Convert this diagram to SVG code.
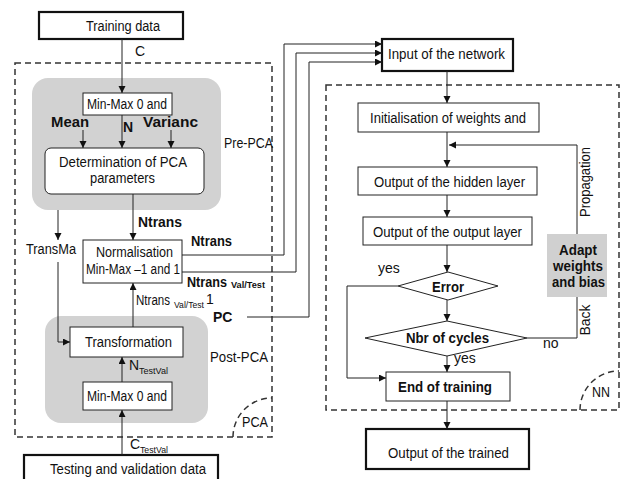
<svg xmlns="http://www.w3.org/2000/svg" width="622" height="479" viewBox="0 0 622 479">
<style>
text{font-family:"Liberation Sans",Arial,sans-serif;font-size:14px;fill:#111}
.b{font-weight:bold}
.c{text-anchor:middle}
.sub{font-size:9px}
.box{fill:#fff;stroke:#222;stroke-width:1}
.thick{fill:#fff;stroke:#111;stroke-width:2.2}
.gray{fill:#d2d2d2;stroke:none}
.dash{fill:none;stroke:#333;stroke-width:1.5;stroke-dasharray:6 4}
.ln{fill:none;stroke:#222;stroke-width:1}
.arr{marker-end:url(#ah)}
</style>
<defs>
<marker id="ah" markerUnits="userSpaceOnUse" markerWidth="8" markerHeight="8" refX="7" refY="3.5" orient="auto">
<path d="M0,0 L7,3.5 L0,7 z" fill="#111"/>
</marker>
</defs>
<rect width="622" height="479" fill="#fff"/>

<g id="regions">
<rect class="dash" x="15" y="63" width="257" height="374"/>
<path class="dash" d="M233,437 A39,39 0 0 1 272,398"/>
<text x="242" y="427" textLength="26" lengthAdjust="spacingAndGlyphs">PCA</text>
<rect class="dash" x="326" y="85" width="293" height="325"/>
<path class="dash" d="M580,410 A39,39 0 0 1 619,371"/>
<text x="592" y="397" textLength="18" lengthAdjust="spacingAndGlyphs">NN</text>
<rect class="gray" x="32" y="78" width="189" height="132" rx="16"/>
<text x="224" y="148" textLength="49" lengthAdjust="spacingAndGlyphs">Pre-PCA</text>
<rect class="gray" x="45" y="316" width="163" height="107" rx="16"/>
<text x="210" y="362" textLength="58" lengthAdjust="spacingAndGlyphs">Post-PCA</text>
</g>

<g id="training">
<rect class="thick" x="39" y="12" width="144" height="27"/>
<text x="86" y="31" textLength="74" lengthAdjust="spacingAndGlyphs">Training data</text>
</g>
<g id="minmax1">
<rect class="box" x="83" y="93" width="89" height="22"/>
<text x="87" y="109" textLength="80" lengthAdjust="spacingAndGlyphs">Min-Max 0 and</text>
</g>
<g id="determination">
<rect class="box" x="45" y="148" width="159" height="46" rx="6"/>
<text x="59" y="167" textLength="128" lengthAdjust="spacingAndGlyphs">Determination of PCA</text>
<text x="90" y="183" textLength="65" lengthAdjust="spacingAndGlyphs">parameters</text>
</g>
<g id="normalisation">
<rect class="box" x="83" y="240" width="99" height="43"/>
<text x="96" y="257" textLength="77" lengthAdjust="spacingAndGlyphs">Normalisation</text>
<text x="86" y="274" textLength="94" lengthAdjust="spacingAndGlyphs">Min-Max –1 and 1</text>
</g>
<g id="transformation">
<rect class="box" x="70" y="327" width="113" height="30"/>
<text x="85" y="347" textLength="87" lengthAdjust="spacingAndGlyphs">Transformation</text>
</g>
<g id="minmax2">
<rect class="box" x="83" y="382" width="89" height="28"/>
<text x="87" y="401" textLength="80" lengthAdjust="spacingAndGlyphs">Min-Max 0 and</text>
</g>
<g id="testing">
<rect class="thick" x="24" y="455" width="194" height="30"/>
<text x="50" y="474" textLength="156" lengthAdjust="spacingAndGlyphs">Testing and validation data</text>
</g>

<g id="input">
<rect class="thick" x="382" y="39" width="131" height="32"/>
<text x="388" y="59" textLength="117" lengthAdjust="spacingAndGlyphs">Input of the network</text>
</g>
<g id="init">
<rect class="box" x="358" y="103" width="181" height="29"/>
<text x="370" y="123" textLength="156" lengthAdjust="spacingAndGlyphs">Initialisation of weights and</text>
</g>
<g id="hidden">
<rect class="box" x="358" y="167" width="179" height="28"/>
<text x="374" y="187" textLength="151" lengthAdjust="spacingAndGlyphs">Output of the hidden layer</text>
</g>
<g id="outputlayer">
<rect class="box" x="363" y="217" width="169" height="28"/>
<text x="373" y="237" textLength="149" lengthAdjust="spacingAndGlyphs">Output of the output layer</text>
</g>
<g id="adapt">
<rect x="547" y="234" width="60" height="63" fill="#d0d0d0"/>
<text class="b" x="559" y="255" textLength="38" lengthAdjust="spacingAndGlyphs">Adapt</text>
<text class="b" x="553" y="271" textLength="50" lengthAdjust="spacingAndGlyphs">weights</text>
<text class="b" x="552" y="287" textLength="53" lengthAdjust="spacingAndGlyphs">and bias</text>
</g>
<g id="error">
<polygon class="box" points="398,286 448,272 498,286 448,300"/>
<text class="b" x="432" y="292" textLength="32" lengthAdjust="spacingAndGlyphs">Error</text>
</g>
<g id="cycles">
<polygon class="box" points="365,338 447,321 527,338 447,356"/>
<text class="b" x="406" y="343" textLength="83" lengthAdjust="spacingAndGlyphs">Nbr of cycles</text>
</g>
<g id="end">
<rect class="box" x="386" y="372" width="124" height="29"/>
<text class="b" x="398" y="392" textLength="94" lengthAdjust="spacingAndGlyphs">End of training</text>
</g>
<g id="trained">
<rect class="thick" x="366" y="429" width="163" height="40"/>
<text x="388" y="458" textLength="121" lengthAdjust="spacingAndGlyphs">Output of the trained</text>
</g>

<g id="connectors">
<path class="ln arr" d="M122,39 V93"/>
<path class="ln arr" d="M122,115 V148"/>
<path class="ln arr" d="M83,130 V148"/>
<path class="ln arr" d="M171,130 V148"/>
<path class="ln arr" d="M133,194 V240"/>
<path class="ln arr" d="M58,210 V240"/>
<path class="ln arr" d="M58,262 V342 H70"/>
<path class="ln arr" d="M133,327 V283"/>
<path class="ln arr" d="M122,382 V357"/>
<path class="ln arr" d="M122,455 V410"/>
<path class="ln arr" d="M182,255 H284 V44 H382"/>
<path class="ln arr" d="M182,272 H296 V53 H382"/>
<path class="ln arr" d="M247,317 H309 V62 H382"/>
<path class="ln arr" d="M447,71 V103"/>
<path class="ln arr" d="M447,132 V167"/>
<path class="ln arr" d="M447,195 V217"/>
<path class="ln arr" d="M447,245 V272"/>
<path class="ln arr" d="M447,300 V321"/>
<path class="ln arr" d="M447,356 V372"/>
<path class="ln arr" d="M398,286 H347 V378 H386"/>
<path class="ln" d="M527,338 H577 V297"/>
<path class="ln arr" d="M577,234 V145 H449"/>
<path class="ln arr" d="M447,401 V429"/>
</g>

<g id="labels">
<text x="135" y="56">C</text>
<text class="b" x="51" y="127" textLength="38" lengthAdjust="spacingAndGlyphs">Mean</text>
<text class="b" x="123" y="132">N</text>
<text class="b" x="143" y="127" textLength="55" lengthAdjust="spacingAndGlyphs">Varianc</text>
<text class="b" x="138" y="227" textLength="44" lengthAdjust="spacingAndGlyphs">Ntrans</text>
<text x="26" y="254" textLength="50" lengthAdjust="spacingAndGlyphs">TransMa</text>
<text class="b" x="191" y="246" textLength="41" lengthAdjust="spacingAndGlyphs">Ntrans</text>
<text class="b" x="187" y="287" textLength="40" lengthAdjust="spacingAndGlyphs">Ntrans</text>
<text class="b sub" x="231" y="288" textLength="34" lengthAdjust="spacingAndGlyphs">Val/Test</text>
<text x="136" y="305" textLength="34" lengthAdjust="spacingAndGlyphs">Ntrans</text>
<text class="sub" x="174" y="308" textLength="30" lengthAdjust="spacingAndGlyphs">Val/Test</text>
<text x="206" y="304">1</text>
<text class="b" x="213" y="322" font-size="16">PC</text>
<text x="129" y="370">N</text>
<text class="sub" x="139" y="374" textLength="29" lengthAdjust="spacingAndGlyphs">TestVal</text>
<text x="130" y="449">C</text>
<text class="sub" x="140" y="453" textLength="28" lengthAdjust="spacingAndGlyphs">TestVal</text>
<text x="378" y="273">yes</text>
<text x="454" y="363">yes</text>
<text x="543" y="348">no</text>
<text class="c" transform="translate(590,182) rotate(-90)" textLength="70" lengthAdjust="spacingAndGlyphs">Propagation</text>
<text class="c" transform="translate(590,320) rotate(-90)">Back</text>
</g>
</svg>
